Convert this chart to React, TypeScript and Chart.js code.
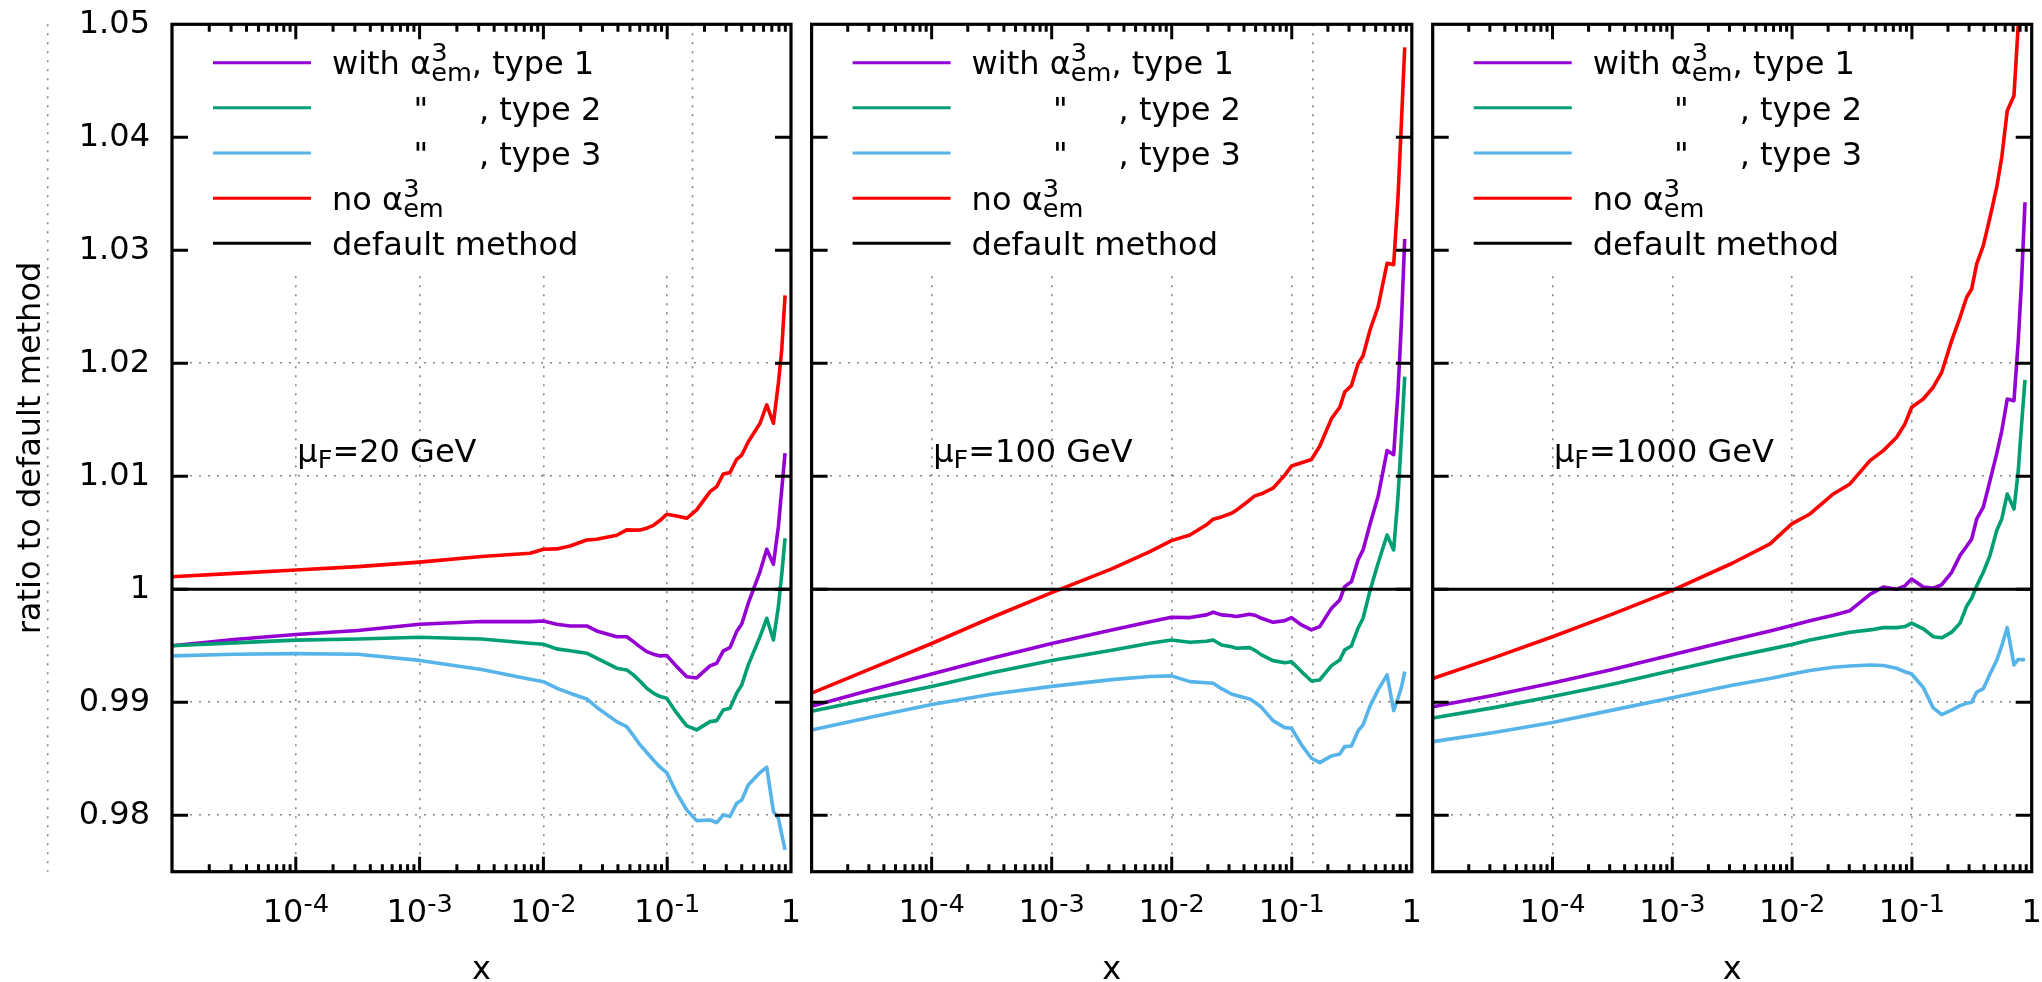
import { useEffect, useRef } from 'react';
import { Chart, registerables } from 'chart.js';

Chart.register(...registerables);

const FAMILY = '"DejaVu Sans", sans-serif';

// ---------- data (x given as log10 of x) ----------
const panel1LogX = [-5, -4.5, -4, -3.5, -3, -2.5, -2.108, -2.0, -1.893, -1.785, -1.65, -1.57, -1.408, -1.327, -1.273, -1.219, -1.165, -1.112, -1.057, -1.004, -0.923, -0.842, -0.762, -0.654, -0.6, -0.547, -0.493, -0.439, -0.398, -0.345, -0.25, -0.196, -0.142, -0.102, -0.075, -0.048];
const panel1Type1 = [0.995, 0.99555, 0.996, 0.99635, 0.9969, 0.99715, 0.99713, 0.99719, 0.9969, 0.99675, 0.99675, 0.99631, 0.9958, 0.9958, 0.99536, 0.9949, 0.99448, 0.99425, 0.9941, 0.99413, 0.99315, 0.99225, 0.99215, 0.99321, 0.99345, 0.99454, 0.99483, 0.99625, 0.99693, 0.99876, 1.00156, 1.00354, 1.00221, 1.00554, 1.0088, 1.01204];
const panel1Type2 = [0.995, 0.99525, 0.9955, 0.9956, 0.99575, 0.9956, 0.99522, 0.99513, 0.99472, 0.99455, 0.99434, 0.9939, 0.99301, 0.99286, 0.99242, 0.99185, 0.99124, 0.9908, 0.9905, 0.99035, 0.98903, 0.9879, 0.98755, 0.98828, 0.98837, 0.98932, 0.98947, 0.9908, 0.99153, 0.9933, 0.99581, 0.99743, 0.99551, 0.99846, 1.0013, 1.00451];
const panel1Type3 = [0.9941, 0.99425, 0.9943, 0.99425, 0.9937, 0.9929, 0.99204, 0.99182, 0.99124, 0.9908, 0.99029, 0.98956, 0.98828, 0.98784, 0.98705, 0.98622, 0.98555, 0.98489, 0.98425, 0.98377, 0.98195, 0.98047, 0.97952, 0.97958, 0.97935, 0.98003, 0.97988, 0.98106, 0.98135, 0.98268, 0.98377, 0.98425, 0.98032, 0.97973, 0.9783, 0.97693];
const panel1NoAlpha = [1.0011, 1.0014, 1.0017, 1.002, 1.0024, 1.0029, 1.00319, 1.00354, 1.00357, 1.00383, 1.00436, 1.00442, 1.00478, 1.00525, 1.00523, 1.00524, 1.0054, 1.00565, 1.0061, 1.00664, 1.00649, 1.00628, 1.00702, 1.00864, 1.00908, 1.0102, 1.01032, 1.0115, 1.01188, 1.01306, 1.01469, 1.01631, 1.01469, 1.01823, 1.02118, 1.026];

const panel2LogX = [-5, -4.5, -4, -3.5, -3, -2.5, -2.182, -2.002, -1.849, -1.71, -1.655, -1.585, -1.502, -1.46, -1.35, -1.308, -1.252, -1.156, -1.058, -1.002, -0.919, -0.836, -0.767, -0.669, -0.6, -0.559, -0.503, -0.448, -0.406, -0.35, -0.281, -0.206, -0.151, -0.115, -0.087, -0.059];
const panel2Type1 = [0.98965, 0.9911, 0.9925, 0.9939, 0.9952, 0.9964, 0.99713, 0.99752, 0.99749, 0.99773, 0.99796, 0.99773, 0.99765, 0.99758, 0.99778, 0.9977, 0.99743, 0.99708, 0.99722, 0.99749, 0.99684, 0.9964, 0.99669, 0.99832, 0.99905, 1.00023, 1.00067, 1.00259, 1.00348, 1.00569, 1.0082, 1.01227, 1.01191, 1.0175, 1.0235, 1.031];
const panel2Type2 = [0.9892, 0.9903, 0.9914, 0.9926, 0.9937, 0.9946, 0.99522, 0.99551, 0.99531, 0.9954, 0.99551, 0.99507, 0.9949, 0.99478, 0.99483, 0.9946, 0.99419, 0.99368, 0.9935, 0.99359, 0.99271, 0.99188, 0.99197, 0.99324, 0.99374, 0.99463, 0.99498, 0.99655, 0.99743, 0.99979, 1.0023, 1.0048, 1.00348, 1.0082, 1.0133, 1.01881];
const panel2Type3 = [0.98755, 0.9887, 0.9898, 0.9907, 0.9914, 0.992, 0.99227, 0.99233, 0.99182, 0.99172, 0.99168, 0.9912, 0.99073, 0.9906, 0.99029, 0.99, 0.98955, 0.98837, 0.98775, 0.9877, 0.98622, 0.98504, 0.98465, 0.98525, 0.98542, 0.98607, 0.98613, 0.98746, 0.98799, 0.98961, 0.99109, 0.99242, 0.98926, 0.99035, 0.9913, 0.99271];
const panel2NoAlpha = [0.9908, 0.993, 0.9952, 0.9975, 0.9997, 1.0018, 1.00333, 1.0043, 1.0048, 1.0057, 1.0062, 1.0064, 1.00672, 1.007, 1.0079, 1.00826, 1.00845, 1.00894, 1.0101, 1.01091, 1.0112, 1.01148, 1.01266, 1.0151, 1.01611, 1.01745, 1.01802, 1.01994, 1.02067, 1.02288, 1.025, 1.02885, 1.02873, 1.03469, 1.04118, 1.04796];

const panel3LogX = [-5, -4.5, -4, -3.5, -3, -2.5, -2.184, -2.003, -1.851, -1.656, -1.517, -1.35, -1.239, -1.127, -1.058, -1.002, -0.905, -0.822, -0.751, -0.668, -0.598, -0.543, -0.501, -0.459, -0.404, -0.348, -0.292, -0.25, -0.204, -0.148, -0.112, -0.085, -0.056];
const panel3Type1 = [0.9896, 0.9906, 0.9917, 0.9929, 0.9942, 0.9955, 0.9963, 0.9968, 0.9972, 0.9977, 0.9981, 0.99955, 1.0002, 1.0, 1.0003, 1.0009, 1.0002, 1.0001, 1.0004, 1.0015, 1.003, 1.0038, 1.00445, 1.00622, 1.00726, 1.00961, 1.012, 1.014, 1.01684, 1.01669, 1.022, 1.0272, 1.03425];
const panel3Type2 = [0.9886, 0.9895, 0.9905, 0.9916, 0.9928, 0.994, 0.9947, 0.9951, 0.9955, 0.9959, 0.9962, 0.9964, 0.9966, 0.9966, 0.9967, 0.997, 0.9965, 0.9958, 0.9957, 0.9962, 0.997, 0.9985, 0.9992, 1.0003, 1.0015, 1.003, 1.0052, 1.0062, 1.00843, 1.0071, 1.0105, 1.0145, 1.01852];
const panel3Type3 = [0.98651, 0.9873, 0.9882, 0.9893, 0.9904, 0.9915, 0.9921, 0.9925, 0.9928, 0.9931, 0.9932, 0.9933, 0.99325, 0.993, 0.9927, 0.9925, 0.9913, 0.9895, 0.9889, 0.9893, 0.9897, 0.9899, 0.99, 0.9909, 0.9912, 0.9925, 0.9937, 0.995, 0.9966, 0.9933, 0.9938, 0.99375, 0.9938];
const panel3NoAlpha = [0.9921, 0.9939, 0.9958, 0.9978, 0.9999, 1.0023, 1.00401, 1.00578, 1.00666, 1.00843, 1.00932, 1.01138, 1.01227, 1.01345, 1.01463, 1.01611, 1.01684, 1.01788, 1.0192, 1.022, 1.02407, 1.02584, 1.02657, 1.02879, 1.03041, 1.03292, 1.03558, 1.03823, 1.04235, 1.04368, 1.05003, 1.058, 1.066];

const defaultX = [1e-5, 1];
const defaultY = [1, 1];

const muValues = ['20', '100', '1000'];
const extraLineX = [0.16, 0.15, null];

const xTickValues = [1e-5, 1e-4, 1e-3, 1e-2, 1e-1, 1];
const xTickBases = ['', '10', '10', '10', '10', '1'];
const xTickExponents = ['', '-4', '-3', '-2', '-1', ''];
const yTickValues = [0.98, 0.99, 1.0, 1.01, 1.02, 1.03, 1.04, 1.05];
const yTickLabels = ['0.98', '0.99', '1', '1.01', '1.02', '1.03', '1.04', '1.05'];

const seriesColors = ['#9400D3', '#009E73', '#56B4E9', '#FF0000', '#000000'];
type Seg = { t?: string; sup?: string; sub?: string };
const legendRows: Seg[][] = [
  [{ t: 'with \u03B1' }, { sup: '3', sub: 'em' }, { t: ', type 1' }],
  [{ t: '        "     , type 2' }],
  [{ t: '        "     , type 3' }],
  [{ t: 'no \u03B1' }, { sup: '3', sub: 'em' }],
  [{ t: 'default method' }],
];

const panels = [
  { logX: panel1LogX, series: [panel1Type1, panel1Type2, panel1Type3, panel1NoAlpha] },
  { logX: panel2LogX, series: [panel2Type1, panel2Type2, panel2Type3, panel2NoAlpha] },
  { logX: panel3LogX, series: [panel3Type1, panel3Type2, panel3Type3, panel3NoAlpha] },
];

// ---------- layout ----------
const AREA_LEFT = [172, 811.6, 1432.7];
const AREA_RIGHT = [791, 1411.8, 2031.7];
const AREA_TOP = 24.3;
const AREA_BOTTOM = 871.7;
const W = 2042;
const H = 982;
const GRID = 'rgba(110,110,110,0.85)';
const DASH = [2, 7];
const FS = 32;
const SFS = FS * 0.8;

function segWidth(ctx: CanvasRenderingContext2D, segs: Seg[]) {
  let w = 0;
  for (const s of segs) {
    if (s.t !== undefined) {
      ctx.font = `${FS}px ${FAMILY}`;
      w += ctx.measureText(s.t).width;
    } else {
      ctx.font = `${SFS}px ${FAMILY}`;
      w += Math.max(s.sup ? ctx.measureText(s.sup).width : 0, s.sub ? ctx.measureText(s.sub).width : 0);
    }
  }
  return w;
}

function drawSegs(ctx: CanvasRenderingContext2D, segs: Seg[], x: number, base: number, supRaise = 13) {
  for (const s of segs) {
    if (s.t !== undefined) {
      ctx.font = `${FS}px ${FAMILY}`;
      ctx.fillText(s.t, x, base);
      x += ctx.measureText(s.t).width;
    } else {
      ctx.font = `${SFS}px ${FAMILY}`;
      let w = 0;
      if (s.sup) { ctx.fillText(s.sup, x, base - supRaise); w = Math.max(w, ctx.measureText(s.sup).width); }
      if (s.sub) { ctx.fillText(s.sub, x, base + 6.7); w = Math.max(w, ctx.measureText(s.sub).width); }
      x += w;
    }
  }
}

const decoPlugin = {
  id: 'panelDeco',
  beforeDatasetsDraw(chart: any, _a: any, opts: any) {
    const { ctx, chartArea: a, scales } = chart;
    ctx.save();
    ctx.fillStyle = '#ffffff';
    ctx.fillRect(a.left, a.top, a.right - a.left, 247);
    if (opts.vline) {
      const px = scales.x.getPixelForValue(opts.vline);
      ctx.strokeStyle = GRID;
      ctx.lineWidth = 1.6;
      ctx.setLineDash(DASH);
      ctx.beginPath();
      ctx.moveTo(px, a.top);
      ctx.lineTo(px, a.bottom);
      ctx.stroke();
    }
    ctx.restore();
  },
  afterDraw(chart: any, _a: any, opts: any) {
    const { ctx, chartArea: a, scales } = chart;
    const xs = scales.x;
    const ys = scales.y;
    ctx.save();
    if (opts.index === 0) {
      ctx.strokeStyle = GRID;
      ctx.lineWidth = 1.6;
      ctx.setLineDash(DASH);
      ctx.beginPath();
      ctx.moveTo(47.7, a.top);
      ctx.lineTo(47.7, a.bottom);
      ctx.stroke();
      ctx.setLineDash([]);
    }
    // tick marks (inward, mirrored)
    ctx.strokeStyle = '#000';
    ctx.lineWidth = 3;
    ctx.beginPath();
    for (let d = 0; d < xTickValues.length - 1; d++) {
      for (let m = 1; m <= 9; m++) {
        if (d === 0 && m === 1) continue;
        const px = xs.getPixelForValue(xTickValues[d] * m);
        const len = m === 1 ? 15 : 7.5;
        ctx.moveTo(px, a.bottom);
        ctx.lineTo(px, a.bottom - len);
        ctx.moveTo(px, a.top);
        ctx.lineTo(px, a.top + len);
      }
    }
    for (const v of yTickValues) {
      if (v >= ys.max - 1e-9) continue;
      const py = ys.getPixelForValue(v);
      ctx.moveTo(a.left, py);
      ctx.lineTo(a.left + 16, py);
      ctx.moveTo(a.right, py);
      ctx.lineTo(a.right - 16, py);
    }
    ctx.stroke();
    ctx.lineWidth = 3.2;
    ctx.strokeRect(a.left, a.top, a.right - a.left, a.bottom - a.top);

    ctx.fillStyle = '#000';
    ctx.textBaseline = 'alphabetic';
    ctx.textAlign = 'left';

    // x tick labels with superscript exponents
    xTickValues.forEach((v, i) => {
      if (!xTickBases[i]) return;
      const segs: Seg[] = [{ t: xTickBases[i] }];
      if (xTickExponents[i]) segs.push({ sup: xTickExponents[i] });
      const w = segWidth(ctx, segs);
      const px = xs.getPixelForValue(v);
      drawSegs(ctx, segs, px - w / 2, a.bottom + 50, 10);
    });

    // key
    ctx.lineWidth = 3;
    legendRows.forEach((row, i) => {
      const y = a.top + 38.4 + 45.15 * i;
      ctx.strokeStyle = seriesColors[i];
      ctx.beginPath();
      ctx.moveTo(a.left + 41, y);
      ctx.lineTo(a.left + 139, y);
      ctx.stroke();
      drawSegs(ctx, row, a.left + 160, y + 11.7);
    });

    // mu_F label
    const lx = xs.getPixelForValue(1e-4) + 1.5;
    const ly = ys.getPixelForValue(1.012) + 8;
    drawSegs(ctx, [{ t: '\u03BC' }, { sub: 'F' }, { t: `=${opts.mu} GeV` }], lx, ly);
    ctx.restore();
  },
};

function buildConfig(index: number): any {
  const p = panels[index];
  const datasets: any[] = p.series.map((vals, si) => ({
    label: `s${si}`,
    data: p.logX.map((lx, i) => ({ x: Math.pow(10, lx), y: vals[i] })),
    borderColor: seriesColors[si],
    borderWidth: 3.6,
    pointRadius: 0,
    tension: 0,
    fill: false,
    borderJoinStyle: 'round',
    order: 4 - si,
  }));
  datasets.push({
    label: 'default',
    data: defaultX.map((x, i) => ({ x, y: defaultY[i] })),
    borderColor: seriesColors[4],
    borderWidth: 3.2,
    pointRadius: 0,
    fill: false,
    order: 0,
  });
  const left = AREA_LEFT[index];
  const right = AREA_RIGHT[index];
  const yWidth = index === 0 ? left : 0;
  const isInnerX = (v: number) => v > 1.5e-5 && v < 0.5;
  return {
    type: 'line',
    data: { datasets },
    plugins: [decoPlugin],
    options: {
      animation: false,
      responsive: true,
      maintainAspectRatio: false,
      events: [],
      layout: { padding: { left: left - yWidth, right: W - right, top: AREA_TOP, bottom: 0 } },
      plugins: {
        legend: { display: false },
        tooltip: { enabled: false },
        panelDeco: { index, vline: extraLineX[index], mu: muValues[index] },
      },
      scales: {
        x: {
          type: 'logarithmic',
          min: 1e-5,
          max: 1,
          afterBuildTicks: (s: any) => { s.ticks = xTickValues.map((v) => ({ value: v })); },
          afterFit: (s: any) => { s.height = H - AREA_BOTTOM; },
          ticks: { display: false, autoSkip: false, maxRotation: 0, minRotation: 0 },
          grid: {
            drawTicks: false,
            lineWidth: 1.6,
            color: (c: any) => (c.tick && isInnerX(c.tick.value) ? GRID : 'rgba(0,0,0,0)'),
          },
          border: { display: false, dash: DASH },
          title: { display: true, text: 'x', color: '#000', font: { family: FAMILY, size: FS, lineHeight: 0.7 }, padding: 0 },
        },
        y: {
          type: 'linear',
          min: 0.975,
          max: 1.05,
          afterBuildTicks: (s: any) => { s.ticks = yTickValues.map((v) => ({ value: v })); },
          afterFit: (s: any) => { s.width = yWidth; },
          ticks: {
            display: index === 0,
            padding: 0,
            color: '#000',
            font: { family: FAMILY, size: FS },
            callback: (v: number) => {
              const i = yTickValues.findIndex((t) => Math.abs(t - v) < 1e-6);
              return i >= 0 ? yTickLabels[i] : '';
            },
          },
          grid: {
            drawTicks: true,
            tickLength: 22,
            tickColor: 'rgba(0,0,0,0)',
            lineWidth: 1.6,
            color: (c: any) => (c.tick && c.tick.value > 0.976 && c.tick.value < 1.049 ? GRID : 'rgba(0,0,0,0)'),
          },
          border: { display: false, dash: DASH },
          title: {
            display: index === 0,
            text: 'ratio to default method',
            color: '#000',
            font: { family: FAMILY, size: FS, lineHeight: 1 },
            padding: { top: 15.5, bottom: 0 },
          },
        },
      },
    },
  };
}

function Panel({ index }: { index: number }) {
  const ref = useRef<HTMLCanvasElement>(null);
  useEffect(() => {
    const chart = new Chart(ref.current as HTMLCanvasElement, buildConfig(index));
    return () => chart.destroy();
  }, [index]);
  return (
    <div style={{ position: 'absolute', left: 0, top: 0, width: W, height: H }}>
      <canvas ref={ref} />
    </div>
  );
}

export default function App() {
  return (
    <div style={{ position: 'fixed', left: 0, top: 0, width: W, height: H, background: '#fff', overflow: 'hidden' }}>
      {[0, 1, 2].map((i) => (
        <Panel key={i} index={i} />
      ))}
    </div>
  );
}
